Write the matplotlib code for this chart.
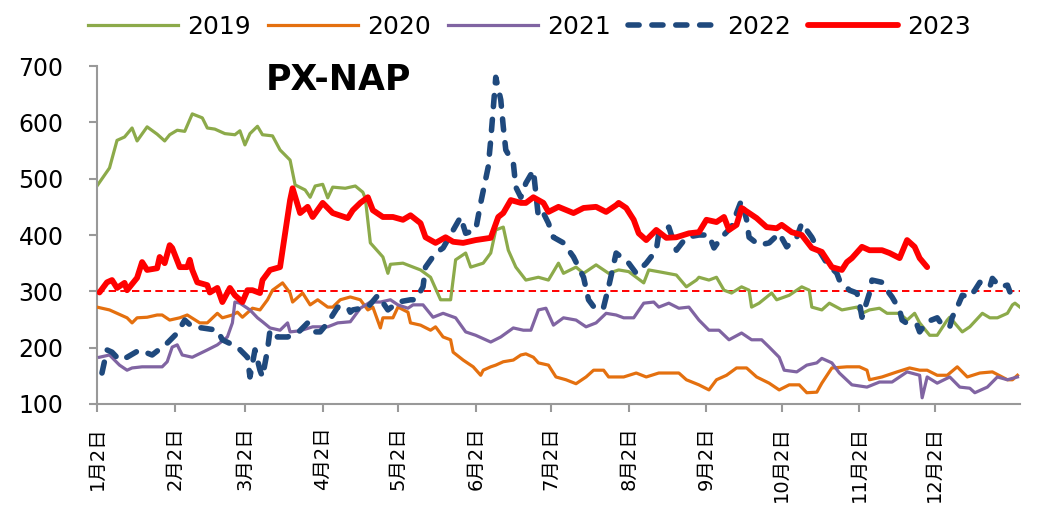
import matplotlib
matplotlib.use("Agg")
import matplotlib.pyplot as plt

plt.rcParams['font.family'] = ['DejaVu Sans', 'Noto Sans CJK SC']

# day offsets from 1月2日 and values
d2019 = [0,5,8,11,14,16,20,24,27,29,32,35,38,42,44,47,51,55,57,59,61,64,66,70,73,77,79,83,85,87,
         90,92,94,99,103,106,107,109,114,116,117,122,129,133,137,141,143,147,149,154,157,159,162,164,167,
         171,176,180,184,186,191,194,199,204,208,212,218,220,225,231,235,239,240,244,247,250,253,257,260,
         261,264,269,271,276,281,284,285,289,292,297,303,305,308,312,315,320,323,326,328,332,335,339,340,
         345,348,353,356,359,363,365,366,368]
v2019 = [487,519,568,574,590,567,592,579,567,578,586,584,615,608,590,588,580,578,585,560,580,593,578,576,551,
         533,489,480,467,487,490,466,485,483,487,476,465,386,361,332,348,350,338,325,285,285,356,368,343,350,
         368,409,414,373,343,320,325,320,350,332,343,332,347,332,338,335,315,338,334,329,308,320,325,320,325,
         302,297,308,302,272,279,297,285,293,308,302,272,267,279,267,272,261,267,270,261,261,249,261,244,222,
         222,249,254,228,237,261,253,253,261,276,279,272]

d2020 = [0,5,8,12,14,16,20,24,26,29,33,36,41,44,48,50,54,56,58,62,65,68,70,74,77,78,82,85,88,92,
         94,97,101,105,108,110,113,114,118,120,124,125,129,133,135,138,141,142,146,150,153,154,157,159,162,
         166,169,171,174,176,180,183,187,191,195,198,202,204,210,215,219,224,232,235,240,244,247,251,255,259,
         263,268,272,276,280,283,287,289,293,299,304,307,308,313,319,324,328,331,335,339,343,347,352,357,363,
         365,367]
v2020 = [272,267,261,253,244,253,254,258,258,249,253,258,244,244,261,253,258,263,254,270,267,285,302,315,297,
         281,297,276,285,272,272,285,290,285,267,272,235,253,253,272,263,244,240,231,237,219,214,192,178,166,
         151,160,166,169,175,178,187,189,183,173,169,148,143,136,148,160,160,148,148,155,148,155,155,143,134,
         125,143,151,164,164,148,137,125,134,134,120,121,137,164,166,166,160,143,148,157,164,160,160,151,151,
         166,148,155,157,143,143,151]

d2021 = [1,5,9,12,14,18,22,26,28,30,32,34,38,44,48,52,54,55,57,61,64,66,69,73,76,77,81,86,92,96,
         101,105,109,113,117,120,124,126,130,134,138,143,147,151,157,161,166,170,173,176,179,182,186,191,195,
         199,203,207,210,214,218,222,224,228,232,236,240,244,248,252,257,261,265,268,272,274,279,283,287,289,
         293,296,301,307,312,317,323,328,329,331,335,340,344,348,350,355,359,363,367]
v2021 = [183,187,169,160,164,166,166,166,175,201,205,187,183,196,205,219,244,281,279,267,253,246,235,231,244,
         228,230,237,237,244,246,270,281,281,285,276,270,276,276,254,261,253,228,222,210,219,235,231,231,267,
         270,240,253,249,237,244,261,258,253,253,279,281,272,279,270,272,249,231,231,214,226,214,214,201,183,
         160,157,169,173,181,173,155,134,130,139,139,157,151,111,148,137,148,130,128,120,130,148,143,148]

d2022 = [2,4,6,9,12,17,22,28,32,35,38,42,48,50,56,60,61,63,65,66,68,69,72,76,80,84,87,89,92,96,
         100,101,102,108,112,116,120,125,127,130,131,135,138,145,147,151,153,156,157,159,161,162,163,166,167,
         169,171,174,176,178,180,182,186,190,194,196,199,202,204,207,212,215,219,223,224,228,231,235,240,244,
         246,249,253,255,257,259,260,264,268,272,275,279,281,285,287,291,295,296,300,303,304,305,308,309,313,
         315,317,320,321,324,327,328,331,335,337,340,341,343,345,348,350,352,356,357,360,363,364]
v2022 = [155,196,192,178,183,196,187,208,226,249,237,235,231,214,201,183,148,196,160,148,196,231,219,219,226,
         244,228,228,244,272,272,263,267,272,293,267,281,285,285,308,343,368,377,432,403,409,457,521,569,680,
         640,592,551,528,485,467,492,515,432,439,421,396,386,361,325,285,267,272,308,368,350,332,350,373,403,
         414,373,396,400,400,377,396,414,439,462,427,396,382,386,403,379,396,421,396,379,350,332,320,302,297,
         279,254,297,320,316,302,290,267,249,240,240,228,246,253,240,237,254,272,293,290,302,316,308,323,308,
         311,299]

d2023 = [1,4,6,8,11,12,16,18,20,24,25,27,29,30,33,36,37,38,40,44,45,48,50,53,55,58,60,62,65,66,
         69,73,74,77,78,81,84,86,90,94,100,102,105,108,110,114,118,122,125,129,131,135,139,142,146,151,157,
         160,162,165,169,171,174,178,180,184,190,194,199,203,207,208,211,214,216,219,223,227,231,236,240,243,
         247,250,252,255,257,260,263,267,271,273,277,281,285,289,293,297,299,301,305,308,313,316,320,323,326,
         328,331]
v2023 = [298,316,320,306,315,302,324,352,338,341,361,350,382,377,343,343,356,338,316,311,298,306,281,306,293,
         281,302,302,297,320,338,343,373,462,483,439,450,432,457,439,430,444,457,467,444,432,432,427,435,421,
         396,386,396,388,386,391,395,432,439,462,457,457,467,457,441,450,439,448,450,441,453,457,448,427,403,
         391,409,395,396,403,405,427,423,432,409,418,448,439,430,414,412,418,405,400,377,370,343,338,352,359,
         379,373,373,368,359,391,379,359,343]

years = ['2019', '2020', '2021', '2022', '2023']
month_days = [0, 31, 59, 90, 120, 151, 181, 212, 243, 273, 304, 334]
month_labels = ['1月2日', '2月2日', '3月2日', '4月2日', '5月2日', '6月2日',
                '7月2日', '8月2日', '9月2日', '10月2日', '11月2日', '12月2日']

fig = plt.figure(figsize=(10.55, 5.11), dpi=100)
ax = fig.add_axes([0.0919, 0.2094, 0.8749, 0.6614])

ax.axhline(300, color='#FF0000', lw=1.4, ls=(0, (3.8, 2.2)), zorder=1)

ax.plot(d2019, v2019, color='#8CAA4A', lw=2.3, label=years[0], zorder=2)
ax.plot(d2020, v2020, color='#E4700F', lw=2.3, label=years[1], zorder=3)
ax.plot(d2021, v2021, color='#8064A2', lw=2.3, label=years[2], zorder=4)
ax.plot(d2022, v2022, color='#1F497D', lw=4, label=years[3], zorder=5,
        dashes=(2, 2.3), dash_capstyle='round', solid_capstyle='round')
ax.plot(d2023, v2023, color='#FF0000', lw=4.2, label=years[4], zorder=6,
        solid_capstyle='round', solid_joinstyle='round')

ax.set_xlim(0, 368)
ax.set_ylim(100, 700)
ax.set_yticks([100, 200, 300, 400, 500, 600, 700])
ax.set_xticks(month_days)
ax.set_xticklabels(month_labels, rotation=90, fontsize=14)
ax.tick_params(axis='y', labelsize=17, length=6, width=1.5, color='#999999', pad=18)
ax.tick_params(axis='x', length=6, width=1.5, color='#999999', pad=10)

for s in ['top', 'right']:
    ax.spines[s].set_visible(False)
for s in ['left', 'bottom']:
    ax.spines[s].set_color('#999999')
    ax.spines[s].set_linewidth(1.5)

ax.text(0.262, 0.96, 'PX-NAP', transform=ax.transAxes, ha='center', va='center',
        fontsize=25, fontweight='bold')

fig.legend(loc='upper center', bbox_to_anchor=(0.502, 1.015), ncol=5, frameon=False,
           fontsize=18, handlelength=3.6, handletextpad=0.35, columnspacing=0.7)

fig.savefig('out.png', dpi=100)
